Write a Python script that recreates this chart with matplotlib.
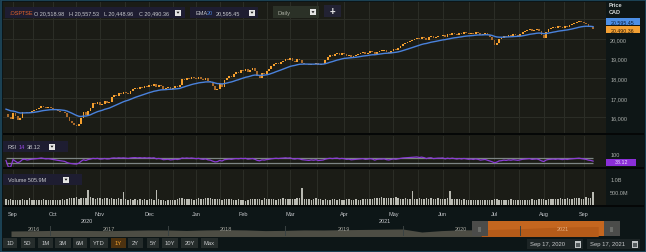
import matplotlib
matplotlib.use("Agg")
import matplotlib.pyplot as plt
from matplotlib.patches import Rectangle, Polygon
import numpy as np
import pandas as pd

W, H = 646, 253

# daily closes, .OSPTSE, Sep 2020 - Sep 2021
closes = [
    16150, 16000, 15900, 16200, 16050, 15850, 15950,
    16250, 16300, 16200, 16280, 16350,
    16400, 16450, 16500, 16600, 16550, 16500,
    16550, 16500, 16450, 16400, 16350, 16300, 16250, 16200,
    16000, 15800, 15700, 15600, 15550, 15650,
    15950, 16250, 16100, 16350, 16500,
    16750, 16700, 16800, 16650, 16700, 16850, 16750, 16800,
    17050, 17150, 17100, 17250, 17200, 17300, 17250, 17200,
    17350, 17450, 17500, 17450, 17550, 17500, 17600,
    17550, 17650, 17600, 17700, 17550, 17650, 17600, 17450, 17500,
    17550, 17450, 17500, 17600, 17550, 17650,
    17950, 17900, 18000, 17950, 18050, 18000, 17950, 18050,
    17950, 17900, 18000, 17850, 17800,
    17600, 17400, 17450, 17700, 17550,
    17900, 18000, 18100, 18050, 18200, 18300, 18250, 18400, 18350,
    18450, 18300, 18400, 18500, 18350, 18100, 18000, 18250, 18200, 18350, 18450,
    18600, 18700, 18800, 18750, 18850, 18900,
    19000, 18950, 19050, 18900, 18850, 19000, 18950,
    18800, 18750, 18700, 18650, 18750, 18700, 18800, 18650, 18700, 18750,
    18950, 19100, 19200, 19150, 19250, 19300, 19200, 19300, 19250,
    19150, 19200, 19100, 19150, 19200, 19250,
    19300, 19350, 19250, 19300, 19400, 19350, 19200, 19350, 19400,
    19400, 19450, 19350, 19300, 19400, 19500, 19450, 19550,
    19650, 19750, 19800, 19850, 19900, 19950, 20000,
    20050, 20000, 20100, 20050, 19950, 20100, 20150, 20050, 20100, 20150,
    20150, 20200, 20100, 20250, 20200, 20300, 20250, 20200, 20300, 20250, 20350, 20300, 20250,
    20300, 20250, 20350, 20300, 20200, 20250, 20300, 20200, 20100,
    19950, 19700, 19800, 20000,
    20050, 20150, 20100, 20200, 20150, 20250, 20200, 20150, 20250,
    20350, 20400, 20450, 20500, 20400, 20450, 20500, 20400,
    20200, 20050,
    20350, 20500, 20550, 20600, 20550, 20650, 20600, 20550, 20650, 20600, 20700,
    20750, 20800, 20850, 20900, 20850, 20800, 20750, 20650,
    20600, 20490.36,
]

# daily volume in millions
volumes_m = [
    210, 190, 230, 180, 200, 170, 190, 220, 180, 200, 250, 190, 170, 200, 180, 190, 210, 170, 180, 200,
    190, 180, 200, 170, 210, 190, 230, 250, 280, 260, 300, 240, 280, 260, 270, 600, 290, 250, 230, 270,
    260, 240, 280, 250, 230, 260, 240, 220, 250, 230, 520, 240, 200, 210, 190, 230, 200, 220, 190, 210,
    200, 230, 210, 190, 580, 220, 200, 180, 150, 170, 200, 190, 180, 210, 260, 250, 230, 220, 240, 210,
    200, 230, 250, 220, 240, 260, 280, 250, 240, 230, 210, 230, 200, 220, 240, 210, 230, 200, 190, 220,
    180, 170, 150, 200, 220, 230, 210, 240, 220, 200, 250, 230, 220, 210, 240, 200, 220, 230, 250, 240,
    230, 210, 220, 240, 260, 250, 650, 230, 240, 220, 200, 210, 250, 240, 220, 200, 210, 200, 190, 230,
    210, 200, 220, 190, 200, 210, 220, 200, 180, 210, 200, 190, 220, 230, 210, 240, 220, 260, 270, 280,
    290, 270, 280, 260, 270, 250, 290, 260, 240, 230, 250, 220, 240, 550, 230, 210, 250, 240, 230, 260,
    240, 250, 230, 220, 250, 240, 230, 220, 260, 550, 240, 230, 220, 240, 200, 210, 180, 200, 170, 190,
    180, 170, 200, 190, 180, 170, 200, 190, 220, 230, 180, 170, 190, 180, 200, 210, 190, 180, 170, 200,
    190, 180, 200, 190, 210, 200, 190, 220, 230, 210, 200, 220, 210, 240, 230, 220, 260, 230, 240, 250,
    230, 220, 260, 250, 280, 240, 230, 300, 270, 250, 506,
]

ema_seed = 16450  # EMA level at the left edge of the chart

month_labels = ["Sep", "Oct", "Nov", "Dec", "Jan", "Feb", "Mar",
                "Apr", "May", "Jun", "Jul", "Aug", "Sep"]
month_pos = [3, 20, 40, 61, 81, 101, 121, 144, 165, 186, 208, 229, 246]
year_labels = ["2020", "2021"]
year_pos = [34.6, 161.1]
price_ticks = [16000, 17000, 18000, 19000, 20000, 21000]
price_labels = ["16,000", "17,000", "18,000", "19,000", "20,000", ""]

# navigator: long-range index level every two months, Sep 2016 - Sep 2021
nav_values = [
    14700, 15000, 15400, 15500, 15350, 15150, 15600, 16050, 16000, 15400,
    16100, 16400, 16100, 15200, 15500, 16100, 16000, 16400, 16700, 17000,
    17300, 13400, 15200, 16200, 16300, 17000, 17700, 18700, 19700, 20200, 20500,
]
nav_years = ["2016", "2017", "2018", "2019", "2020", "2021"]
range_buttons = ["1D", "5D", "1M", "3M", "6M", "YTD", "1Y", "2Y", "5Y", "10Y", "20Y", "Max"]
quote_fields = ["O", "H", "L", "C"]
quote_values = ["20,518.98", "20,557.53", "20,448.96", "20,490.36"]
ema_value = "20,595.45"
rsi_value = "38.12"
volume_value = "505.9M"

BG = "#1b1c16"
GRID = "#2c2e27"
TXT = "#c6c8cc"
plt.rcParams["font.family"] = ["Liberation Sans", "DejaVu Sans"]

closes = np.array(closes, dtype=float)
opens = np.r_[closes[0], closes[:-1]]
idx = np.arange(len(closes))

# EMA 20
alpha = 2 / 21
ema = []
prev = ema_seed
for c in closes:
    prev = prev + alpha * (c - prev)
    ema.append(prev)

# RSI 14 (Wilder)
delta = pd.Series(closes).diff().fillna(0)
gain = delta.clip(lower=0).ewm(alpha=1 / 14, adjust=False).mean()
loss = (-delta.clip(upper=0)).ewm(alpha=1 / 14, adjust=False).mean()
rsi = (100 - 100 / (1 + gain / loss.replace(0, np.nan))).fillna(50)

fig = plt.figure(figsize=(W / 100, H / 100), dpi=100, facecolor="#0c1517")


def px_axes(x0, y0, x1, y1, z=1):
    ax = fig.add_axes([x0 / W, 1 - y1 / H, (x1 - x0) / W, (y1 - y0) / H], zorder=z)
    ax.patch.set_visible(False)
    for s in ax.spines.values():
        s.set_visible(False)
    return ax


bg = px_axes(0, 0, W, H, z=0)
bg.set_xlim(0, W)
bg.set_ylim(H, 0)
bg.axis("off")


def rect(ax, x0, y0, x1, y1, color, **kw):
    ax.add_patch(Rectangle((x0, y0), x1 - x0, y1 - y0, facecolor=color,
                           edgecolor=kw.pop("ec", "none"), lw=kw.pop("lw", 0), **kw))


rect(bg, 3, 3, 606, 207, BG)
rect(bg, 606, 3, 644, 207, "#0e1616")
for y in (134.5, 168.5, 206.5):
    rect(bg, 3, y - 1, 644, y + 1, "#050707")
rect(bg, 3, 208, 644, 252, "#0d1617")
rect(bg, 0.5, 0.5, W - 0.5, H - 0.5, "none", ec="#1f4b60", lw=1.2)

xlim = (-1.28, 255.5)
minor_pos = [(a + b) / 2 for a, b in zip(month_pos[:-1], month_pos[1:])]

# price panel
ax = px_axes(3, 3, 606, 134)
up = closes >= opens
body = np.where(np.abs(closes - opens) < 18, 18, closes - opens)
ax.bar(idx[up], body[up], bottom=opens[up], width=0.75, color="#f5a02e", lw=0)
ax.bar(idx[~up], body[~up], bottom=opens[~up], width=0.75, color="#a8692a", lw=0)
ax.plot(idx, ema, color="#4a82dc", lw=1.0)
ax.set_xlim(*xlim)
ax.set_ylim(15204, 21888)
ax.set_yticks(price_ticks, price_labels)
ax.yaxis.tick_right()
ax.tick_params(axis="y", length=0, pad=3, labelsize=4, labelcolor="#a9adaa")
ax.set_xticks(month_pos)
ax.set_xticks(minor_pos, minor=True)
ax.tick_params(axis="x", which="both", length=0, labelbottom=False)
ax.grid(True, which="both", color=GRID, lw=0.7)
ax.set_axisbelow(True)

# RSI panel
ar = px_axes(3, 137, 606, 168)
ar.hlines([70, 30], 0, len(closes) - 1, color="#7d8584", lw=0.9)
ar.plot(idx, rsi, color="#8b3bd6", lw=0.9)
ar.set_xlim(*xlim)
ar.set_ylim(0, 238)
ar.set_yticks([100], ["100"])
ar.yaxis.tick_right()
ar.tick_params(axis="y", length=0, pad=3, labelsize=4, labelcolor="#a9adaa")
ar.set_xticks(month_pos)
ar.set_xticks(minor_pos, minor=True)
ar.tick_params(axis="x", which="both", length=0, labelbottom=False)
ar.grid(True, axis="x", which="both", color=GRID, lw=0.7)
ar.set_axisbelow(True)

# volume panel
av = px_axes(3, 171, 606, 206)
av.bar(idx, volumes_m, width=0.6, color="#b9bab2", lw=0)
av.set_xlim(*xlim)
av.set_ylim(-20, 1380)
av.set_yticks([500, 1000], ["500.0M", "1.0B"])
av.yaxis.tick_right()
av.tick_params(axis="y", length=0, pad=3, labelsize=4, labelcolor="#a9adaa")
av.set_xticks(month_pos, month_labels)
av.set_xticks(minor_pos, minor=True)
av.tick_params(axis="x", which="both", length=0, pad=4.5, labelsize=4, labelcolor=TXT)
av.grid(True, axis="x", which="both", color=GRID, lw=0.7)
av.set_axisbelow(True)
for p, lab in zip(year_pos, year_labels):
    av.annotate(lab, (p, 0), xycoords=("data", "axes fraction"), xytext=(0, -11),
                textcoords="offset points", ha="center", va="center", fontsize=4, color=TXT)

# navigator
an = px_axes(3, 222, 640, 237)
nav_dates = pd.date_range("2016-09-01", periods=len(nav_values), freq="2MS")
nav_x = np.array([d.year + (d.dayofyear - 1) / 365.25 for d in nav_dates])
nav_v = np.array(nav_values, dtype=float)
yr = lambda px: 2021 + (px - 520) / 117.5
an.set_xlim(yr(3), yr(640))
an.set_ylim(8236, 27600)
sel0, sel1 = yr(488), yr(604)
an.fill_between(nav_x, 0, nav_v, where=nav_x <= sel0 + 0.1, color="#4d4d44", lw=0)
an.axvspan(sel0, sel1, color="#c4661f", lw=0)
an.fill_between(nav_x, 0, nav_v, where=nav_x >= sel0 - 0.1, color="#b55b19", lw=0)
for y in range(2017, 2022):
    an.axvline(y, ymin=0.0, ymax=0.7, color="#3a4242", lw=0.7)
lab_x = [yr(34)] + [int(y) + 0.5 for y in nav_years[1:-1]] + [yr(563)]
for x, lab in zip(lab_x, nav_years):
    an.text(x, 0.5, lab, transform=an.get_xaxis_transform(), ha="center", va="center",
            fontsize=4, color="#a2a29a" if lab != "2021" else "#e8b080")
an.set_xticks([])
an.set_yticks([])

# overlay: legends, value tags, buttons
ov = px_axes(0, 0, W, H, z=5)
ov.set_xlim(0, W)
ov.set_ylim(H, 0)
ov.axis("off")


def dropdown(x, y):
    rect(ov, x - 3, y - 3, x + 3, y + 3, "#e4e4e4")
    ov.add_patch(Polygon([(x - 1.5, y - 0.8), (x + 1.5, y - 0.8), (x, y + 1.2)],
                         closed=True, facecolor="#111111", lw=0))


def label(x, y, s, color=TXT, size=4.2, **kw):
    ov.text(x, y, s, color=color, fontsize=size, va="center", **kw)


rect(ov, 5, 8, 185, 19, "#1e1d31")
label(9, 13.5, ".OSPTSE", color="#e8652b", size=4)
for i, (f, v) in enumerate(zip(quote_fields, quote_values)):
    label(34 + 35 * i, 13.5, f"{f} {v}", size=4)
dropdown(178, 13.5)

rect(ov, 190, 8, 258, 19, "#1e1d31")
label(195, 13.5, "EMA", size=4)
label(207, 13.5, "20", color="#4a82dc", size=4)
label(216, 13.5, ema_value, size=4)
dropdown(252, 13.5)

rect(ov, 273, 7, 319, 19, "#2b3127")
label(277, 13, "Daily", color="#a8aca0")
dropdown(313, 13)
rect(ov, 324, 6, 341, 18, "#222233")
label(332.5, 12, "+", color="#e8e8e8", size=7, ha="center", weight="bold")

label(609, 5, "Price", color="#d6dada", size=4, weight="bold")
label(609, 12.5, "CAD", color="#d6dada", size=4, weight="bold")
rect(ov, 606, 19, 640, 26, "#4d8fe6")
label(623, 22.5, ema_value, color="#0d1f3a", size=3.8, ha="center")
rect(ov, 606, 27, 640, 34, "#f3a033")
label(623, 30.5, quote_values[3], color="#2d1a04", size=3.8, ha="center")

rect(ov, 3, 142, 68, 153, "#1e1d31")
label(8, 147.5, "RSI", size=4)
label(19, 147.5, "14", color="#9b4be6", size=4)
label(27, 147.5, rsi_value, size=4)
dropdown(52, 147.5)
rect(ov, 606, 159.5, 636, 166.5, "#8b2fd8")
label(621, 163, rsi_value, color="#efe2ff", size=3.8, ha="center")

rect(ov, 3, 175, 82, 186, "#1e1d31")
label(8, 180.5, f"Volume {volume_value}", size=4)
dropdown(66, 180.5)

# navigator handles
for x0 in (472, 604):
    rect(ov, x0, 222, x0 + 16, 237, "#4b4c4a")
    label(x0 + 8, 229.5, "|||", color="#8a8c88", size=4, ha="center")

# range buttons
bx = [(3, 17), (21, 35), (38, 53), (55, 71), (73, 87), (90, 108), (111, 126),
      (128, 143), (147, 159), (162, 178), (181, 198), (201, 218)]
for (x0, x1), lab in zip(bx, range_buttons):
    sel = lab == "1Y"
    rect(ov, x0, 239, x1, 249, "#4d3210" if sel else "#262d2c")
    label((x0 + x1) / 2, 244, lab, color="#f0a030" if sel else "#c8cacc", ha="center")

for x0, x1, s in ((527, 583, "Sep 17, 2020"), (587, 640, "Sep 17, 2021")):
    rect(ov, x0, 240, x1, 250, "#1c2425")
    label(x0 + 3, 245, s, color="#c8cacc")
    rect(ov, x1 - 8, 241.5, x1 - 2, 248.5, "#bfc3c4")
    rect(ov, x1 - 7, 243.5, x1 - 3, 247.5, "#555c5e")

fig.savefig("out.png", dpi=100, facecolor=fig.get_facecolor())
